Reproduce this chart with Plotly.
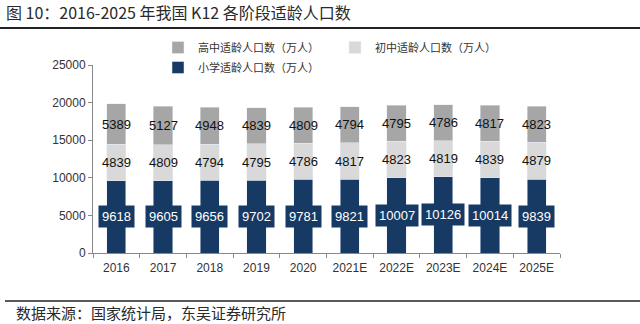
import plotly.graph_objects as go

years = ["2016", "2017", "2018", "2019", "2020", "2021E", "2022E", "2023E", "2024E", "2025E"]
primary = [9618, 9605, 9656, 9702, 9781, 9821, 10007, 10126, 10014, 9839]
junior = [4839, 4809, 4794, 4795, 4786, 4817, 4823, 4819, 4839, 4879]
senior = [5389, 5127, 4948, 4839, 4809, 4794, 4795, 4786, 4817, 4823]
y_ticks = [0, 5000, 10000, 15000, 20000, 25000]

name_primary = "小学适龄人口数（万人）"
name_junior = "初中适龄人口数（万人）"
name_senior = "高中适龄人口数（万人）"

c_primary = "#173A64"
c_junior = "#D9D9D9"
c_senior = "#A6A6A6"

W, H = 640, 324
L, R, T, B = 93, 80, 65, 71

num_family = "Liberation Sans, Arial"
cjk = "Noto Sans CJK SC"

fig = go.Figure()
fig.add_trace(go.Bar(x=years, y=primary, name=name_primary, marker_color=c_primary,
                     legend="legend2", hoverinfo="skip"))
fig.add_trace(go.Bar(x=years, y=junior, name=name_junior, marker_color=c_junior,
                     legend="legend", hoverinfo="skip"))
fig.add_trace(go.Bar(x=years, y=senior, name=name_senior, marker_color=c_senior,
                     legend="legend", hoverinfo="skip"))

for i, (p, j, s) in enumerate(zip(primary, junior, senior)):
    fig.add_annotation(x=i, y=p / 2, text=str(p), showarrow=False,
                       bgcolor=c_primary, borderpad=3,
                       font=dict(family=num_family, size=13, color="white"))
    fig.add_annotation(x=i, y=p + j / 2, text=str(j), showarrow=False,
                       font=dict(family=num_family, size=13, color="#111"))
    fig.add_annotation(x=i, y=p + j + s / 2, text=str(s), showarrow=False,
                       font=dict(family=num_family, size=13, color="#111"))

pw = W - L - R
ph = H - T - B
def px_to_paper_x(px):
    return (px - L) / pw
def px_to_paper_y(py):
    return (H - B - py) / ph

# title & footer
fig.add_annotation(text="图 10：2016-2025 年我国 K12 各阶段适龄人口数", xref="paper", yref="paper",
                   x=px_to_paper_x(4), y=px_to_paper_y(12), xanchor="left", yanchor="middle",
                   showarrow=False, font=dict(family=cjk, size=16, color="#2a2a2a"))
fig.add_annotation(text="数据来源：国家统计局，东吴证券研究所", xref="paper", yref="paper",
                   x=px_to_paper_x(14), y=px_to_paper_y(312), xanchor="left", yanchor="middle",
                   showarrow=False, font=dict(family=cjk, size=15, color="#2a2a2a"))
fig.add_shape(type="line", xref="paper", yref="paper",
              x0=px_to_paper_x(0), x1=px_to_paper_x(640), y0=px_to_paper_y(28), y1=px_to_paper_y(28),
              line=dict(color="#222", width=2))
fig.add_shape(type="line", xref="paper", yref="paper",
              x0=px_to_paper_x(5), x1=px_to_paper_x(640), y0=px_to_paper_y(301), y1=px_to_paper_y(301),
              line=dict(color="#222", width=1.5))

legend_font = dict(family=cjk, size=11, color="#333")
fig.update_layout(
    width=W, height=H,
    margin=dict(l=L, r=R, t=T, b=B),
    barmode="stack", bargap=0.59,
    plot_bgcolor="white", paper_bgcolor="white",
    showlegend=True,
    legend=dict(orientation="h", x=px_to_paper_x(158), y=px_to_paper_y(33), xanchor="left", yanchor="top",
                traceorder="reversed", font=legend_font, itemwidth=30, entrywidth=132,
                bgcolor="rgba(0,0,0,0)"),
    legend2=dict(orientation="h", x=px_to_paper_x(158), y=px_to_paper_y(53), xanchor="left", yanchor="top",
                 font=legend_font, itemwidth=30, bgcolor="rgba(0,0,0,0)"),
    xaxis=dict(type="category", range=[-0.5, len(years) - 0.5], showline=True, linecolor="#888",
               linewidth=1, ticks="outside", tickson="boundaries", ticklen=4, tickcolor="#888",
               ticklabelstandoff=4,
               tickfont=dict(family=num_family, size=12, color="#333"),
               showgrid=False),
    yaxis=dict(range=[0, 25000], tickvals=y_ticks, tickformat="d", showline=True, linecolor="#888",
               linewidth=1, ticks="outside", ticklen=4, tickcolor="#888", showgrid=False, zeroline=False,
               tickfont=dict(family=num_family, size=12, color="#333")),
)

fig.write_html("out.html")
